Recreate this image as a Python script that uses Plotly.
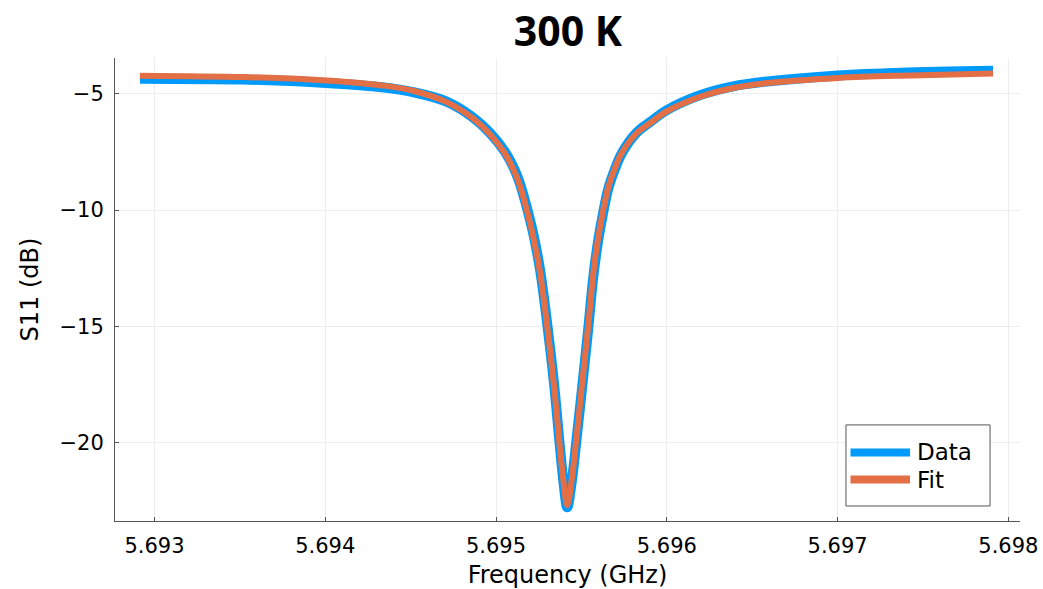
import plotly.graph_objects as go

# Frequency (GHz)
freq = [5.692915, 5.693518, 5.693911, 5.694203, 5.694321, 5.694514, 5.694711,
        5.694867, 5.694965, 5.695053, 5.695111, 5.695140, 5.695180, 5.695218,
        5.695258, 5.695300, 5.695340, 5.695371, 5.695394, 5.695417, 5.695443,
        5.695468, 5.695502, 5.695539, 5.695570, 5.695599, 5.695628, 5.695658,
        5.695697, 5.695736, 5.695824, 5.695902, 5.695999, 5.696195, 5.696388,
        5.696587, 5.697003, 5.697366, 5.697910]

# Measured S11 (dB)
s11_data = [-4.34, -4.38, -4.48, -4.62, -4.70, -4.92, -5.33,
            -6.02, -6.68, -7.50, -8.30, -8.86, -9.88, -11.02,
            -12.58, -14.92, -17.50, -19.95, -21.65, -22.80, -21.72,
            -20.12, -17.78, -15.18, -12.85, -11.27, -10.08, -9.06,
            -8.22, -7.56, -6.66, -6.21, -5.70, -5.05, -4.67,
            -4.46, -4.20, -4.08, -4.00]

# Fitted S11 (dB)
s11_fit = [-4.21, -4.27, -4.38, -4.53, -4.62, -4.86, -5.35,
           -6.06, -6.73, -7.57, -8.39, -8.95, -9.99, -11.15,
           -12.70, -15.03, -17.62, -20.02, -21.63, -22.71, -21.63,
           -20.02, -17.62, -15.03, -12.70, -11.15, -9.99, -9.00,
           -8.18, -7.54, -6.68, -6.25, -5.75, -5.12, -4.74,
           -4.53, -4.31, -4.21, -4.12]

x_ticks = [5.693, 5.694, 5.695, 5.696, 5.697, 5.698]
y_ticks = [-20, -15, -10, -5]

BLUE = "#009AFA"
ORANGE = "#E26F46"
AX = "#555555"
FONT = "DejaVu Sans"

fig = go.Figure()
fig.add_trace(go.Scatter(x=freq, y=s11_data, mode="lines", name="Data",
                         line=dict(color=BLUE, width=10, shape="spline", smoothing=1.0)))
fig.add_trace(go.Scatter(x=freq, y=s11_fit, mode="lines", name="Fit",
                         line=dict(color=ORANGE, width=6, shape="spline", smoothing=1.0)))

# custom legend (box, sample lines, labels) in paper coordinates
lx0, lx1, ly0, ly1 = 0.8077, 0.9669, 0.0324, 0.2075
shapes = [dict(type="rect", xref="paper", yref="paper", x0=lx0, x1=lx1, y0=ly0, y1=ly1,
               line=dict(color=AX, width=1), fillcolor="white", layer="above")]
annotations = []
for i, (nm, col) in enumerate([("Data", BLUE), ("Fit", ORANGE)]):
    yy = 0.148 - i * 0.0585
    shapes.append(dict(type="line", xref="paper", yref="paper", x0=0.8127, x1=0.8785,
                       y0=yy, y1=yy, line=dict(color=col, width=8), layer="above"))
    annotations.append(dict(xref="paper", yref="paper", x=0.8845, y=yy, text=nm,
                            showarrow=False, xanchor="left", yanchor="middle",
                            font=dict(family=FONT, size=23, color="black")))

fig.update_layout(
    width=1043, height=589,
    margin=dict(l=115, r=23, t=58, b=68),
    paper_bgcolor="white", plot_bgcolor="white",
    showlegend=False,
    title=dict(text="<b>300 K</b>", x=0.5445, xanchor="center", y=0.947, yanchor="middle",
               font=dict(family="Open Sans", size=41, color="black")),
    shapes=shapes, annotations=annotations,
    font=dict(family=FONT, color="black"),
)
fig.update_xaxes(range=[5.692769, 5.698068], tickvals=x_ticks,
                 ticktext=[f"{v:.3f}" for v in x_ticks], automargin=False,
                 showline=True, linecolor=AX, linewidth=1, mirror=False,
                 ticks="inside", ticklen=4, tickcolor=AX, ticklabelstandoff=6,
                 showgrid=True, gridcolor="#EDEDED", gridwidth=1, zeroline=False,
                 tickfont=dict(family=FONT, size=21),
                 title=dict(text="Frequency (GHz)", font=dict(family=FONT, size=24), standoff=8))
fig.update_yaxes(range=[-23.39, -3.45], tickvals=y_ticks, automargin=False,
                 showline=True, linecolor=AX, linewidth=1, mirror=False,
                 ticks="inside", ticklen=4, tickcolor=AX, ticklabelstandoff=6,
                 showgrid=True, gridcolor="#EDEDED", gridwidth=1, zeroline=False,
                 tickfont=dict(family=FONT, size=21),
                 title=dict(text="S11 (dB)", font=dict(family=FONT, size=24), standoff=14))

fig.write_html("out.html")
